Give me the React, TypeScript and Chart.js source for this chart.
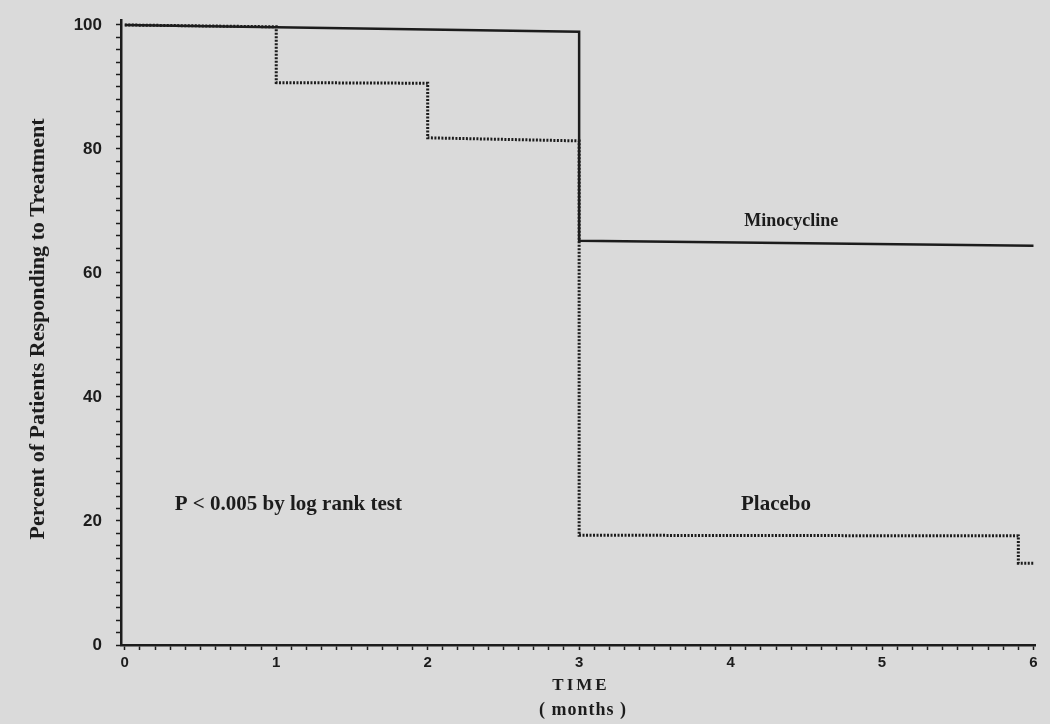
import React, { useEffect, useRef } from "react";
import { Chart, registerables } from "chart.js";

Chart.register(...registerables);

// ---- data (months, percent responding) ----
const minocyclineTime = [0, 3, 3, 6];
const minocyclinePct = [100, 98.9, 65.2, 64.4];

const placeboTime = [0, 1, 1, 2, 2, 3, 3, 5.9, 5.9, 6];
const placeboPct = [100, 99.7, 90.7, 90.6, 81.8, 81.3, 17.7, 17.6, 13.2, 13.2];

const xTickLabels = ["0", "1", "2", "3", "4", "5", "6"];
const yTickLabels = ["0", "20", "40", "60", "80", "100"];

const annotations = [
  { text: "Minocycline", x: 4.4, y: 68.3, align: "center", size: 18 },
  { text: "Placebo", x: 4.3, y: 22.6, align: "center", size: 21 },
  { text: "P < 0.005 by log rank test", x: 0.33, y: 22.6, align: "left", size: 21 },
];

const yTitle = "Percent of Patients Responding to Treatment";
const xTitle = "TIME";
const xSubTitle = "( months )";

const toPoints = (xs: number[], ys: number[]) => xs.map((x, i) => ({ x, y: ys[i] }));

const INK = "#1c1c1c";
const BG = "#dadada";

const overlayPlugin = {
  id: "overlay",
  beforeDraw(chart: any) {
    const { ctx, width, height } = chart;
    ctx.save();
    ctx.fillStyle = BG;
    ctx.fillRect(0, 0, width, height);
    ctx.restore();
  },
  afterDraw(chart: any) {
    const { ctx } = chart;
    const xs = chart.scales.x;
    const ys = chart.scales.y;
    ctx.save();
    ctx.fillStyle = INK;
    ctx.textBaseline = "middle";
    annotations.forEach((a) => {
      ctx.font = `bold ${a.size}px 'Liberation Serif', serif`;
      ctx.textAlign = a.align;
      ctx.fillText(a.text, xs.getPixelForValue(a.x), ys.getPixelForValue(a.y));
    });
    // x title
    ctx.textAlign = "center";
    ctx.font = "bold 17px 'Liberation Serif', serif";
    (ctx as any).letterSpacing = "3px";
    ctx.fillText(xTitle, 581, 686);
    (ctx as any).letterSpacing = "1px";
    ctx.font = "bold 18px 'Liberation Serif', serif";
    ctx.fillText(xSubTitle, 583, 710);
    (ctx as any).letterSpacing = "0px";
    // y title
    ctx.translate(38, 329);
    ctx.rotate(-Math.PI / 2);
    ctx.font = "bold 22px 'Liberation Serif', serif";
    ctx.fillText(yTitle, 0, 0);
    ctx.restore();
  },
};

export default function App() {
  const ref = useRef<HTMLCanvasElement | null>(null);
  useEffect(() => {
    document.body.style.margin = "0";
    const xTicks: number[] = [];
    for (let i = 0; i <= 60; i++) xTicks.push(i / 10);
    const yTicks: number[] = [];
    for (let i = 0; i <= 50; i++) yTicks.push(i * 2);
    const chart = new Chart(ref.current as HTMLCanvasElement, {
      type: "line",
      data: {
        datasets: [
          {
            label: "Minocycline",
            data: toPoints(minocyclineTime, minocyclinePct),
            borderColor: INK,
            borderWidth: 2.5,
            pointRadius: 0,
            tension: 0,
          },
          {
            label: "Placebo",
            data: toPoints(placeboTime, placeboPct),
            borderColor: INK,
            borderWidth: 3,
            borderDash: [2, 1.5],
            pointRadius: 0,
            tension: 0,
          },
        ],
      },
      options: {
        animation: false,
        responsive: false,
        events: [],
        layout: { padding: { top: 20, right: 15, left: 0, bottom: 0 } },
        plugins: { legend: { display: false }, tooltip: { enabled: false }, title: { display: false } },
        scales: {
          x: {
            type: "linear",
            min: -0.025,
            max: 6.01,
            afterBuildTicks: (s: any) => {
              s.ticks = xTicks.map((v) => ({ value: v }));
            },
            afterFit: (s: any) => {
              s.height = 79;
              s.paddingLeft = 0;
              s.paddingRight = 0;
            },
            border: { display: true, color: INK, width: 2.5 },
            grid: { drawOnChartArea: false, drawTicks: true, tickLength: 5, tickColor: INK, tickWidth: 1.5 },
            ticks: {
              autoSkip: false,
              maxRotation: 0,
              padding: 4,
              color: INK,
              font: { family: "'Liberation Sans', Arial, sans-serif", size: 15, weight: "bold" },
              callback: (v: any) => {
                const idx = Math.round(v * 10);
                return idx % 10 === 0 ? xTickLabels[idx / 10] : "";
              },
            },
          },
          y: {
            type: "linear",
            min: 0,
            max: 100.8,
            afterBuildTicks: (s: any) => {
              s.ticks = yTicks.map((v) => ({ value: v }));
            },
            afterFit: (s: any) => {
              s.width = 121;
              s.paddingTop = 0;
              s.paddingBottom = 0;
            },
            border: { display: true, color: INK, width: 2.5 },
            grid: { drawOnChartArea: false, drawTicks: true, tickLength: 5, tickColor: INK, tickWidth: 1.5 },
            ticks: {
              autoSkip: false,
              padding: 14,
              color: INK,
              font: { family: "'Liberation Sans', Arial, sans-serif", size: 17, weight: "bold" },
              callback: (v: any) => {
                const n = Math.round(v);
                return n % 20 === 0 ? yTickLabels[n / 20] : "";
              },
            },
          },
        },
      },
      plugins: [overlayPlugin],
    } as any);
    return () => chart.destroy();
  }, []);
  return (
    <div style={{ width: 1050, height: 724 }}>
      <canvas ref={ref} width={1050} height={724} style={{ display: "block" }} />
    </div>
  );
}
